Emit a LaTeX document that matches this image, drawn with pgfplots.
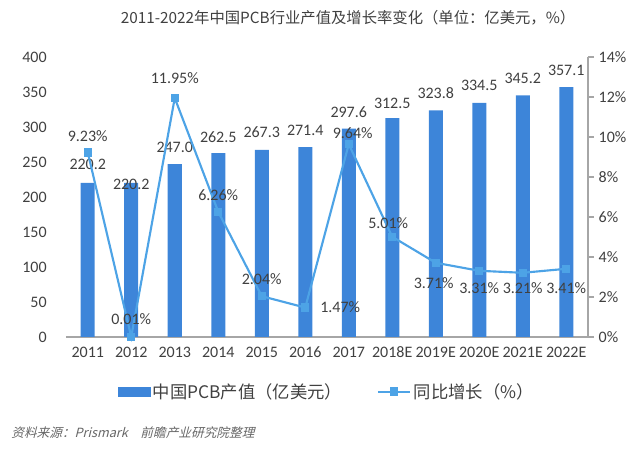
\documentclass[border=0pt]{standalone}
\usepackage{fontspec}
\setmainfont{Carlito}
\newfontfamily\cjk{Noto Sans CJK SC}
\newfontfamily\cjkit[FakeSlant=0.25]{Noto Sans CJK SC}
\usepackage{pgfplots}
\pgfplotsset{compat=1.18}
\usepackage{pgfplotstable}

\definecolor{barblue}{HTML}{3D85D9}
\definecolor{lineblue}{HTML}{4DA3E6}
\definecolor{axisgray}{HTML}{A6A6A6}
\definecolor{txt}{HTML}{404040}

% value, label offset (px)
\pgfplotstableread{
x v dy
0 220.2 18
1 220.2 -2
2 247.0 17
3 262.5 16
4 267.3 18
5 271.4 17
6 297.6 17
7 312.5 15
8 323.8 17
9 334.5 17
10 345.2 17
11 357.1 17
}\bars

\pgfplotstableread{
x g dx dy
0 9.23 0 16
1 0.01 0 18
2 11.95 0 20
3 6.26 0 17
4 2.04 0 17
5 1.47 35 0
6 9.64 4 11
7 5.01 -4 14
8 3.71 -2 -20
9 3.31 0 -17
10 3.21 0 -15
11 3.41 0 -19
}\growth

\pgfplotsset{
  every axis/.append style={
    /pgf/number format/assume math mode=true,
    at={(49.5pt,86.25pt)}, anchor=south west,
    scale only axis, width=391.5pt, height=210pt,
    xmin=-0.5, xmax=11.5, clip=false,
    tick label style={font=\fontsize{12}{14}\selectfont, text=txt},
  },
}

\begin{document}
\begin{tikzpicture}
\useasboundingbox (0,0) rectangle (480pt,339pt);

\begin{axis}[
  ymin=0, ymax=400, ytick={0,50,...,400},
  xtick={0,...,11},
  xticklabels={2011,2012,2013,2014,2015,2016,2017,2018E,2019E,2020E,2021E,2022E},
  axis x line*=bottom, axis y line*=left,
  x axis line style={axisgray, line width=0.8pt},
  y axis line style={draw=none},
  major tick length=0pt,
  yticklabel style={xshift=-11pt},
  xticklabel style={yshift=-4pt},
]
\addplot[ybar, bar width=10.5pt, fill=barblue, draw=none,
  visualization depends on={\thisrow{dy}\as\labdy},
  nodes near coords={\pgfmathprintnumber[fixed,fixed zerofill,precision=1]{\pgfplotspointmeta}},
  every node near coord/.append style={anchor=center, yshift={(\labdy)*0.75pt},
    font=\fontsize{12}{14}\selectfont, text=txt},
] table[x=x, y=v, meta=v] {\bars};
\end{axis}

\begin{axis}[
  ymin=0, ymax=14, ytick={0,2,...,14},
  yticklabel={\pgfmathprintnumber{\tick}\%},
  axis y line*=right, axis x line=none,
  y axis line style={axisgray, line width=0.8pt},
  ytick style={axisgray, line width=0.8pt},
  tick align=outside, major tick length=4.5pt,
  legend columns=2,
  legend style={draw=none, fill=none, at={(0.5,-0.196)}, anchor=center,
    font=\cjk\fontsize{13}{15}\selectfont, text=txt,
    /tikz/every even column/.append style={column sep=24pt}},
]
\addlegendimage{legend image code/.code={\fill[barblue] (0pt,-3.5pt) rectangle (24pt,3.5pt);}}
\addlegendentry{中国PCB产值（亿美元）}
\addplot[lineblue, line width=1.6pt, mark=square*, mark size=2.3pt,
  mark options={fill=lineblue, draw=lineblue},
  legend image code/.code={\draw[lineblue, line width=1.6pt] (0pt,0pt) -- (24pt,0pt);
    \fill[lineblue] (12pt,0pt) +(-2.5pt,-2.5pt) rectangle +(2.5pt,2.5pt);},
  visualization depends on={\thisrow{dx}\as\labdx},
  visualization depends on={\thisrow{dy}\as\labdy},
  nodes near coords={\pgfmathprintnumber[fixed,fixed zerofill,precision=2]{\pgfplotspointmeta}\%},
  every node near coord/.append style={anchor=center,
    xshift={(\labdx)*0.75pt}, yshift={(\labdy)*0.75pt},
    font=\fontsize{12}{14}\selectfont, text=txt},
] table[x=x, y=g, meta=g] {\growth};
\addlegendentry{同比增长（\%）}
\end{axis}

\node[font=\cjk\fontsize{11.5}{13}\selectfont, text=txt] at (261pt,325.5pt)
  {2011-2022年中国PCB行业产值及增长率变化（单位：亿美元，\%）};
\node[font=\cjkit\fontsize{9.5}{11}\selectfont, text=txt!80, anchor=west] at (5pt,14.25pt)
  {资料来源：Prismark\quad 前瞻产业研究院整理};
\end{tikzpicture}
\end{document}
